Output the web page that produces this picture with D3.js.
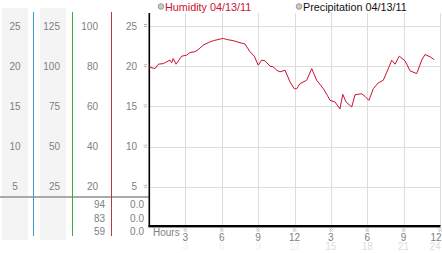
<!DOCTYPE html>
<html>
<head>
<meta charset="utf-8">
<script src="https://cdn.jsdelivr.net/npm/d3@7"></script>
<style>
  body { margin: 0; background: #fff; }
  svg { display: block; font-family: "Liberation Sans", Arial, sans-serif; }
</style>
</head>
<body>
<div id="chart"></div>
<script>
// lecturas de humedad (hora del día, %)
const horas = [0, 0.49, 0.77, 1.18, 1.46, 1.73, 1.87, 2.0, 2.23, 2.7, 3.11, 3.38, 3.79, 4.07, 4.48, 4.89, 5.3, 5.86, 6.13, 6.41, 6.95, 7.51, 7.92, 8.33, 8.68, 9.01, 9.29, 9.57, 9.98, 10.25, 10.53, 10.8, 11.22, 11.63, 11.98, 12.18, 12.45, 13.0, 13.42, 13.83, 14.38, 14.71, 14.93, 15.34, 15.75, 15.98, 16.25, 16.72, 16.99, 17.54, 17.81, 18.14, 18.5, 18.91, 19.32, 19.74, 20.02, 20.29, 20.64, 21.11, 21.53, 22.08, 22.49, 22.76, 23.18, 23.51];
const humedad = [79.6, 78.8, 81, 81.3, 82.2, 83, 81.7, 83.8, 81, 85, 85.5, 86.8, 87.2, 88.3, 90.5, 91.7, 92.7, 93.5, 93.8, 93.3, 92.7, 91.7, 91, 87.2, 85, 80.5, 83, 82.7, 80, 79.7, 78, 77.2, 78, 72.2, 68.8, 68.8, 71.3, 73, 78.8, 73, 68.8, 65.5, 63, 62.2, 58.8, 66, 62.2, 59.7, 65.8, 66.3, 65, 63, 68.8, 71.7, 73, 78.8, 83, 81, 85, 82.7, 77.7, 76.3, 83, 85.8, 84.7, 83.3];

const ticksPanel1 = [25, 20, 15, 10, 5];
const ticksPanel2 = [125, 100, 75, 50, 25];
const ticksPanel3 = [100, 80, 60, 40, 20];
const ticksPanel4 = [25, 20, 15, 10, 5];
const resumenHumedad = ["94", "83", "59"];
const resumenPrecip = ["0.0", "0.0", "0.0"];
const horasTicks = [3, 6, 9, 12, 15, 18, 21, 24];
const etiquetasHoras = ["3", "6", "9", "12", "3", "6", "9", "12"];
const etiquetasHoras24 = ["3", "6", "9", "12", "15", "18", "21", "24"];

const width = 442, height = 253;
const svg = d3.select("#chart").append("svg").attr("width", width).attr("height", height);

const x = d3.scaleLinear().domain([0, 24]).range([149, 440]);
const y4 = d3.scaleLinear().domain([0, 25]).range([227, 26]);
const y1 = d3.scaleLinear().domain([0, 25]).range([227, 26]);
const y2 = d3.scaleLinear().domain([0, 125]).range([227, 26]);
const yH = d3.scaleLinear().domain([0, 100]).range([227, 26]);

// fondos grises de los paneles
svg.append("rect").attr("x", 2).attr("y", 8).attr("width", 26).attr("height", 232).attr("fill", "#f4f4f4");
svg.append("rect").attr("x", 40).attr("y", 8).attr("width", 26).attr("height", 232).attr("fill", "#f4f4f4");

// línea separadora de los resúmenes
svg.append("rect").attr("x", 0).attr("y", 196).attr("width", 149).attr("height", 2).attr("fill", "#aaaaaa");

// líneas de color de cada eje
const separadores = [{ x: 33.5, c: "#3a9fd0" }, { x: 72.5, c: "#3aaa3a" }, { x: 111.5, c: "#b83a3a" }];
svg.selectAll("line.sep").data(separadores).join("line")
  .attr("x1", (d) => d.x).attr("x2", (d) => d.x)
  .attr("y1", 12).attr("y2", 236)
  .attr("stroke", (d) => d.c).attr("stroke-width", 1);

const textoGris = "#808080";
function etiquetas(datos, escala, xPos, anchor) {
  svg.append("g").selectAll("text").data(datos).join("text")
    .attr("x", xPos).attr("y", (d) => escala(d) + 3.5)
    .attr("text-anchor", anchor)
    .attr("font-size", 10).attr("fill", textoGris)
    .text((d) => d);
}
etiquetas(ticksPanel1, y1, 15, "middle");
etiquetas(ticksPanel2, y2, 60, "end");
etiquetas(ticksPanel3, yH, 98, "end");
etiquetas(ticksPanel4, y4, 137, "end");

svg.append("g").selectAll("text").data(resumenHumedad).join("text")
  .attr("x", 105).attr("y", (d, i) => 208 + i * 13.7)
  .attr("text-anchor", "end").attr("font-size", 10).attr("fill", textoGris).text((d) => d);
svg.append("g").selectAll("text").data(resumenPrecip).join("text")
  .attr("x", 144).attr("y", (d, i) => 208 + i * 13.7)
  .attr("text-anchor", "end").attr("font-size", 10).attr("fill", textoGris).text((d) => d);

// rejilla
const rejilla = svg.append("g").attr("stroke", "#dddddd").attr("stroke-width", 1);
rejilla.selectAll("line.h").data(ticksPanel4).join("line")
  .attr("x1", 149).attr("x2", 440)
  .attr("y1", (d) => Math.round(y4(d)) + 0.5).attr("y2", (d) => Math.round(y4(d)) + 0.5);
rejilla.selectAll("line.v").data(horasTicks).join("line")
  .attr("x1", (d) => Math.round(x(d)) + 0.5).attr("x2", (d) => Math.round(x(d)) + 0.5)
  .attr("y1", 13).attr("y2", 226);

// marcas pequeñas
function marca(g) {
  g.append("path")
    .attr("d", "M-1.5,-2 l1,1 l1,-1 l1,1 M-1.5,0 l1,1 l1,-1 l1,1")
    .attr("fill", "none").attr("stroke", "#999").attr("stroke-width", 0.8);
}
svg.append("g").selectAll("g").data(ticksPanel4).join("g")
  .attr("transform", (d) => `translate(145.5,${y4(d)})`).call(marca);
svg.append("g").selectAll("g").data(horasTicks).join("g")
  .attr("transform", (d) => `translate(${x(d)},230.5)`).call(marca);

// ejes negros
svg.append("rect").attr("x", 148.5).attr("y", 13).attr("width", 1.6).attr("height", 214).attr("fill", "#000");
svg.append("rect").attr("x", 148.5).attr("y", 225).attr("width", 292).attr("height", 2.4).attr("fill", "#000");

// etiquetas de horas
svg.append("text").attr("x", 153).attr("y", 236).attr("font-size", 10).attr("fill", textoGris).text("Hours");
svg.append("g").selectAll("text").data(horasTicks).join("text")
  .attr("x", (d) => Math.min(x(d), 436)).attr("y", 240.5)
  .attr("text-anchor", "middle").attr("font-size", 10).attr("fill", textoGris)
  .text((d, i) => etiquetasHoras[i]);
svg.append("g").selectAll("text").data(horasTicks).join("text")
  .attr("x", (d) => Math.min(x(d), 435)).attr("y", 250)
  .attr("text-anchor", "middle").attr("font-size", 10)
  .attr("fill", (d) => (d > 12 ? "#dddddd" : "#f1f1f1"))
  .text((d, i) => etiquetasHoras24[i]);

// línea de humedad
const linea = d3.line().x((d) => x(d[0])).y((d) => yH(d[1]));
svg.append("path")
  .datum(horas.map((h, i) => [h, humedad[i]]))
  .attr("d", linea)
  .attr("fill", "none").attr("stroke", "#cc1030").attr("stroke-width", 1);

// leyenda
const leyenda = [
  { x: 161, texto: "Humidity 04/13/11", color: "#cc1030" },
  { x: 299, texto: "Precipitation 04/13/11", color: "#111" },
];
const ley = svg.append("g").selectAll("g").data(leyenda).join("g");
ley.append("circle").attr("cx", (d) => d.x).attr("cy", 6.5).attr("r", 2.8)
  .attr("fill", "#c8c8c8").attr("stroke", "#888").attr("stroke-width", 0.8);
ley.append("text").attr("x", (d) => d.x + 4).attr("y", 10.5)
  .attr("font-size", 10.8).attr("fill", (d) => d.color).text((d) => d.texto);
</script>
</body>
</html>
